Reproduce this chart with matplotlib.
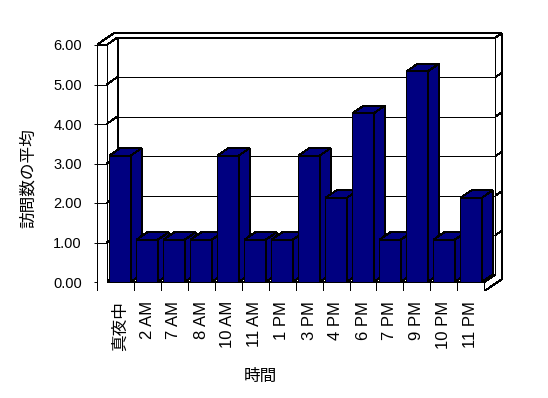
import matplotlib
matplotlib.use("Agg")
import matplotlib.pyplot as plt
from matplotlib.patches import Polygon

plt.rcParams['font.family'] = ['Liberation Sans', 'Noto Sans CJK JP']

# DATA
hours = ['真夜中', '2 AM', '7 AM', '8 AM', '10 AM', '11 AM', '1 PM',
         '3 PM', '4 PM', '6 PM', '7 PM', '9 PM', '10 PM', '11 PM']
avg_visits = [3.2, 1.07, 1.07, 1.07, 3.2, 1.07, 1.07,
              3.2, 2.13, 4.27, 1.07, 5.33, 1.07, 2.13]
y_ticks = [0, 1, 2, 3, 4, 5, 6]

# 3D LOOK (excel style box)
BAR_COLOR = '#000080'
DX = 11 / 27       # depth shift, category units
DY = 7.5 / 39.5    # depth shift, value units
WALL = 10 / 27     # left wall thickness
FLOOR = 9 / 39.5   # floor thickness
BACK = 1.55        # depth of the back side of the back wall
BAR_W = 0.79
LW = 0.7

n = len(hours)
x0, x1 = -0.5, n - 0.5
ytop = y_ticks[-1]


def pt(x, y, d):
    return (x + d * DX, y + d * DY)


def face(ax, pts, fc='white', z=1):
    ax.add_patch(Polygon([pt(*p) for p in pts], closed=True, facecolor=fc,
                         edgecolor='black', linewidth=LW, zorder=z,
                         joinstyle='miter', antialiased=False))


def line3d(ax, a, b, z=2):
    (xa, ya), (xb, yb) = pt(*a), pt(*b)
    ax.plot([xa, xb], [ya, yb], color='black', linewidth=LW, zorder=z,
            solid_capstyle='butt', antialiased=False)


def bar3d(ax, xc, v, z):
    l, r = xc - BAR_W / 2, xc + BAR_W / 2
    face(ax, [(l, 0, 0), (r, 0, 0), (r, v, 0), (l, v, 0)], BAR_COLOR, z)
    face(ax, [(r, 0, 0), (r, 0, 1), (r, v, 1), (r, v, 0)], BAR_COLOR, z)
    face(ax, [(l, v, 0), (r, v, 0), (r, v, 1), (l, v, 1)], BAR_COLOR, z)


fig = plt.figure(figsize=(5.48, 3.98), dpi=100)
W, H = 548, 398
ax = fig.add_axes([96.5 / W, (H - 291) / H, 413.5 / W, 261 / H])
ax.set_xlim(x0 - WALL, x0 + 413.5 / 27 - WALL)
ax.set_ylim(-FLOOR, 261 / 39.5 - FLOOR)
for s in ax.spines.values():
    s.set_visible(False)

# inner faces: back wall, left wall side, floor top
face(ax, [(x0, 0, 1), (x1, 0, 1), (x1, ytop, 1), (x0, ytop, 1)])
face(ax, [(x0, 0, 0), (x0, 0, 1), (x0, ytop, 1), (x0, ytop, 0)])
face(ax, [(x0, 0, 0), (x1, 0, 0), (x1, 0, 1), (x0, 0, 1)])

# outer faces of the walls and floor
xl = x0 - WALL
face(ax, [(xl, -FLOOR, 0), (x1, -FLOOR, 0), (x1, 0, 0), (x0, 0, 0),
          (x0, ytop, 0), (xl, ytop, 0)])
face(ax, [(xl, ytop, 0), (x0, ytop, 0), (x0, ytop, 1), (x1, ytop, 1),
          (x1, ytop, BACK), (xl, ytop, BACK)])
face(ax, [(x1, -FLOOR, 0), (x1, -FLOOR, BACK), (x1, ytop, BACK),
          (x1, ytop, 1), (x1, 0, 1), (x1, 0, 0)])

# gridlines and ticks
for yv in y_ticks[1:-1]:
    line3d(ax, (x0, yv, 1), (x1, yv, 1))
    line3d(ax, (x0, yv, 0), (x0, yv, 1))
    line3d(ax, (xl, yv, 0), (x0, yv, 0))
    line3d(ax, (x1, yv, 1), (x1, yv, BACK))
for k in range(n - 1):
    line3d(ax, (k + 0.5, -FLOOR, 0), (k + 0.5, 0, 0))

# bars, left to right so each front hides the previous side
for k, v in enumerate(avg_visits):
    bar3d(ax, k, v, 5 + k)

ax.set_yticks(y_ticks)
ax.set_yticklabels(['%.2f' % t for t in y_ticks], fontsize=10.5)
ax.tick_params(axis='y', length=2.5, width=LW, pad=8)
ax.set_xticks(range(n))
ax.set_xticklabels(hours, rotation=90, fontsize=12)
ax.tick_params(axis='x', length=0, pad=7)

ax.text(-0.1657, 0.433, '訪問数の平均', transform=ax.transAxes, rotation=90,
        ha='center', va='center', fontsize=12)
ax.text(0.397, -0.3276, '時間', transform=ax.transAxes,
        ha='center', va='center', fontsize=12)

fig.savefig('out.png', dpi=100)
